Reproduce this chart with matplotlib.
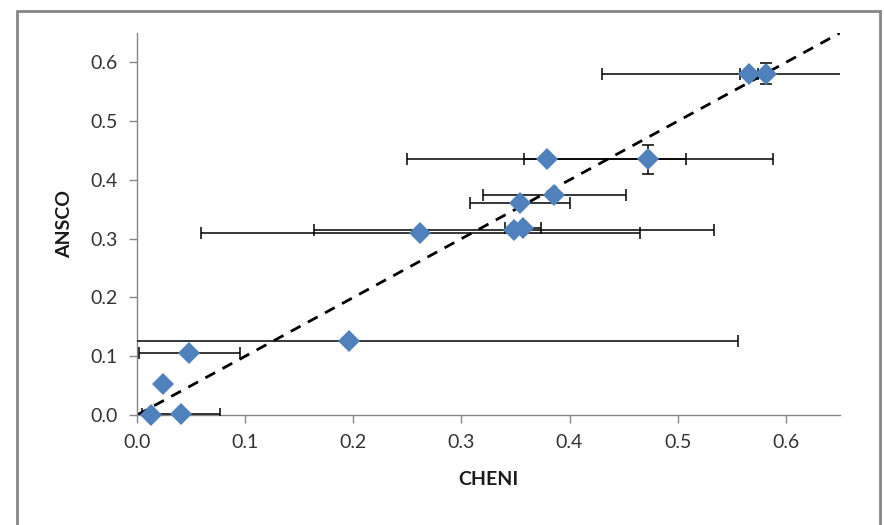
import matplotlib.pyplot as plt
from matplotlib.patches import Rectangle

# Значения CHENI / ANSCO и погрешности
cheni = [0.566, 0.582, 0.379, 0.473, 0.386, 0.354, 0.262, 0.349, 0.357,
         0.196, 0.0485, 0.0236, 0.013, 0.0405]
ansco = [0.580, 0.581, 0.435, 0.435, 0.375, 0.361, 0.310, 0.315, 0.318,
         0.126, 0.106, 0.052, 0.0, 0.001]
cheni_err = [0.008, 0.152, 0.129, 0.115, 0.066, 0.046, 0.203, 0.185, 0.017,
             0.360, 0.0465, 0.0, 0.0, 0.036]
ansco_err = [0.0, 0.018, 0.0, 0.024, 0.0, 0.0, 0.0, 0.0, 0.0,
             0.0, 0.0, 0.0, 0.0, 0.0]

ticks = [0.0, 0.1, 0.2, 0.3, 0.4, 0.5, 0.6]
lim = 0.65

plt.rcParams['font.family'] = ['Lato', 'DejaVu Sans']

fig = plt.figure(figsize=(8.84, 5.25), dpi=100)
ax = fig.add_axes([0.155, 0.2095, 0.795, 0.7275])

# Рамка вокруг области диаграммы
fig.patches.append(Rectangle((17 / 884, -0.1), 863 / 884, 1.1 - 11 / 525,
                             transform=fig.transFigure, fill=False,
                             edgecolor='#868686', linewidth=2))

# Линия y = x
ax.plot([0, lim], [0, lim], color='black', linestyle=(0, (4, 3)),
        linewidth=2, zorder=2)

ax.errorbar(cheni, ansco, xerr=cheni_err, yerr=ansco_err, fmt='none',
            ecolor='black', elinewidth=1.1, capsize=4.5, capthick=1.1,
            zorder=3)
ax.plot(cheni, ansco, linestyle='none', marker='D', markersize=11,
        color='#4F81BD', markeredgewidth=0, zorder=4, clip_on=False)

ax.set_xlim(0, lim)
ax.set_ylim(0, lim)
ax.set_xticks(ticks)
ax.set_yticks(ticks)
ax.set_xticklabels([f'{t:.1f}' for t in ticks])
ax.set_yticklabels([f'{t:.1f}' for t in ticks])

for side in ['top', 'right']:
    ax.spines[side].set_visible(False)
for side in ['left', 'bottom']:
    ax.spines[side].set_color('#868686')
    ax.spines[side].set_linewidth(1)

ax.tick_params(axis='both', direction='out', length=6, width=1,
               color='#868686', labelsize=14, labelcolor='#333333', pad=8)

ax.set_xlabel('CHENI', fontsize=14, fontweight='bold', color='#1a1a1a',
              labelpad=14)
ax.set_ylabel('ANSCO', fontsize=14, fontweight='bold', color='#1a1a1a',
              labelpad=12)

fig.savefig('out.png', dpi=100)
